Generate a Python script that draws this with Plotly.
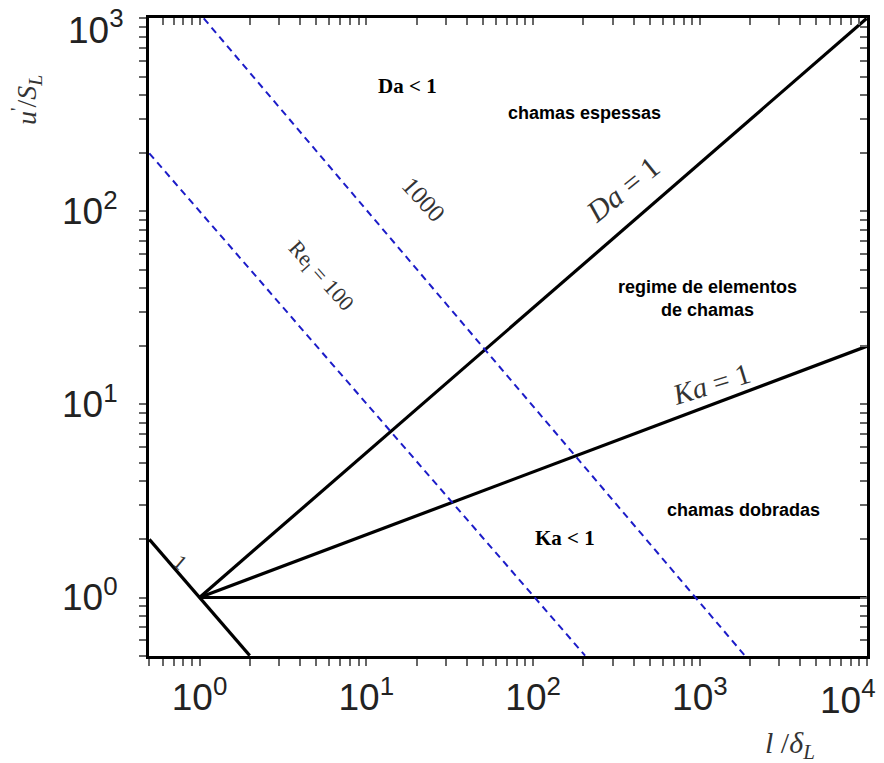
import math
import plotly.graph_objects as go

# ---- data ----
x_range = [0.5, 1e4]
y_range = [0.5, 1e3]
x_decades = [1, 10, 100, 1000, 10000]
x_decade_text = ["10<sup>0</sup>", "10<sup>1</sup>", "10<sup>2</sup>", "10<sup>3</sup>", "10<sup>4</sup>"]
y_decades = [1, 10, 100, 1000]
y_decade_text = ["10<sup>0</sup>", "10<sup>1</sup>", "10<sup>2</sup>", "10<sup>3</sup>"]
minor_multipliers = [2, 3, 4, 5, 6, 7, 8, 9]

da1_x = [1, 1e4]
da1_y = [1, 1e3]
ka1_x = [1, 1e4]
ka1_y = [1, 20]
horiz_x = [1, 1e4]
horiz_y = [1, 1]
re1_x = [0.5, 2]
re1_y = [2, 0.5]
re100_x = [0.5, 205]
re100_y = [200, 0.5]
re1000_x = [1.06, 1860]
re1000_y = [1000, 0.5]


def build_ticks(lo, hi, decades, labels, edge_label):
    vals, texts = [], []
    d = 10 ** math.floor(math.log10(lo))
    while d <= hi * 1.0001:
        for m in [1] + minor_multipliers:
            v = d * m
            if lo * 0.9999 <= v <= hi * 1.0001:
                vals.append(v)
                if m == 1 and v in decades and v != edge_label:
                    texts.append(labels[decades.index(v)])
                else:
                    texts.append("")
        d *= 10
    return vals, texts


# the labels at the far edges are placed as annotations so they stay inside the page
xv, xt = build_ticks(x_range[0], x_range[1], x_decades, x_decade_text, x_decades[-1])
yv, yt = build_ticks(y_range[0], y_range[1], y_decades, y_decade_text, y_decades[-1])

fig = go.Figure()
black = dict(color="black", width=3.2)
for xs, ys in [(da1_x, da1_y), (ka1_x, ka1_y), (horiz_x, horiz_y), (re1_x, re1_y)]:
    fig.add_trace(go.Scatter(x=xs, y=ys, mode="lines", line=black, showlegend=False, hoverinfo="skip"))
blue = dict(color="#1c1cc8", width=2, dash="7px,5px")
for xs, ys in [(re100_x, re100_y), (re1000_x, re1000_y)]:
    fig.add_trace(go.Scatter(x=xs, y=ys, mode="lines", line=blue, showlegend=False, hoverinfo="skip"))
fig.add_trace(go.Scatter(x=[1], y=[1], xaxis="x2", yaxis="y2", mode="markers",
                         marker=dict(opacity=0), showlegend=False, hoverinfo="skip"))

eps = 0.002
lx = [math.log10(x_range[0]) - eps, math.log10(x_range[1]) + eps]
ly = [math.log10(y_range[0]) - eps, math.log10(y_range[1]) + eps]

tickfont = dict(family="Liberation Sans, Arial", size=37, color="#222")
common = dict(type="log", showgrid=False, zeroline=False, showline=True,
              linecolor="black", linewidth=3, automargin=False, tickwidth=1.5, tickcolor="#666")
OFF = 8  # page body offset
fig.update_layout(
    width=884, height=763,
    margin=dict(l=149 - OFF, r=17 + OFF, t=18 - OFF, b=107 + OFF),
    plot_bgcolor="white", paper_bgcolor="white",
    xaxis=dict(range=lx, tickmode="array", tickvals=xv, ticktext=xt, ticks="outside", ticklen=7,
               tickfont=tickfont, ticklabelstandoff=0, ticklabeloverflow="allow", **common),
    yaxis=dict(range=ly, tickmode="array", tickvals=yv, ticktext=yt, ticks="outside", ticklen=7,
               tickfont=tickfont, ticklabelstandoff=14, ticklabeloverflow="allow", **common),
    xaxis2=dict(range=lx, overlaying="x", side="top", anchor="y2", tickmode="array",
                tickvals=xv, showticklabels=False, ticks="inside", ticklen=7, **common),
    yaxis2=dict(range=ly, overlaying="y", side="right", anchor="x2", tickmode="array",
                tickvals=yv, showticklabels=False, ticks="inside", ticklen=7, **common),
)

L, R, T, B = 149, 867, 18, 656


def px(xp, yp):
    return (xp - L) / (R - L), (B - yp) / (B - T)


# edge tick labels
xp, yp = px(878, 697)
fig.add_annotation(text=x_decade_text[-1], x=xp, y=yp, xref="paper", yref="paper", showarrow=False,
                   font=tickfont, xanchor="right", yanchor="middle")
xp, yp = px(126, 27)
fig.add_annotation(text=y_decade_text[-1], x=xp, y=yp, xref="paper", yref="paper", showarrow=False,
                   font=tickfont, xanchor="right", yanchor="middle")

serif = "Liberation Serif, Times New Roman"
sans = "Liberation Sans, Arial"
anns = [
    ("<b>Da &lt; 1</b>", 407, 86, serif, 21, "black", 0),
    ("<b>chamas espessas</b>", 584, 113, sans, 18, "black", 0),
    ("<b>regime de elementos<br>de chamas</b>", 707, 298, sans, 18, "black", 0),
    ("<b>chamas dobradas</b>", 743, 510, sans, 18, "black", 0),
    ("<b>Ka &lt; 1</b>", 565, 538, serif, 21, "black", 0),
    ("1000", 424, 199, serif, 25, "#333", 48),
    ("Re<sub>l</sub> = 100", 320, 276, serif, 22, "#333", 48),
    ("<i>Da</i> = 1", 622, 189, serif, 30, "#333", -39),
    ("<i>Ka</i> = 1", 711, 384, serif, 29, "#333", -17),
    ("1", 180, 562, serif, 21, "#333", 40),
    ("<i>l</i> /<i>δ</i><sub><i>L</i></sub>", 790, 745, serif, 30, "#333", 0),
    ("<i>u</i><sup>'</sup>/<i>S</i><sub><i>L</i></sub>", 26, 100, serif, 28, "#333", -90),
]
for text, x, y, fam, size, col, ang in anns:
    xp, yp = px(x, y)
    fig.add_annotation(text=text, x=xp, y=yp, xref="paper", yref="paper",
                       showarrow=False, font=dict(family=fam, size=size, color=col),
                       textangle=ang, xanchor="center", yanchor="middle")

fig.write_html("out.html")
